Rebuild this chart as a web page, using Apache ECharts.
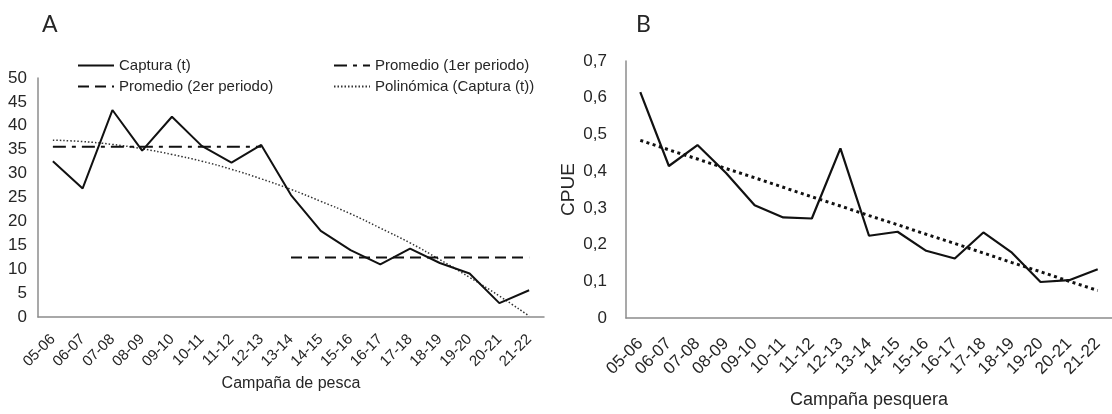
<!DOCTYPE html>
<html>
<head>
<meta charset="utf-8">
<script src="https://cdn.jsdelivr.net/npm/echarts@6/dist/echarts.min.js"></script>
<style>
html,body{margin:0;padding:0;background:#fff;}
#c{width:1112px;height:414px;}
</style>
</head>
<body>
<div id="c"></div>
<script>
// ---- data ----
const categories = ['05-06','06-07','07-08','08-09','09-10','10-11','11-12','12-13','13-14','14-15','15-16','16-17','17-18','18-19','19-20','20-21','21-22'];
const captura = [32.6, 26.9, 43.3, 34.8, 41.9, 35.8, 32.3, 36.0, 25.5, 18.0, 14.0, 11.0, 14.3, 11.3, 9.1, 2.9, 5.6];
const periodo1 = ['05-06','06-07','07-08','08-09','09-10','10-11','11-12','12-13'];
const promedio1 = 35.6;
const periodo2 = ['13-14','14-15','15-16','16-17','17-18','18-19','19-20','20-21','21-22'];
const promedio2 = 12.45;
const polinomica = [37.0, 36.7, 36.1, 35.2, 34.0, 32.6, 30.9, 28.9, 26.7, 24.2, 21.6, 18.6, 15.5, 12.0, 8.3, 4.4, 0.2];
const cpue = [0.615, 0.414, 0.471, 0.395, 0.307, 0.274, 0.271, 0.462, 0.224, 0.235, 0.183, 0.162, 0.233, 0.178, 0.098, 0.103, 0.133];
const cpueTrend = [0.484, 0.458, 0.433, 0.407, 0.382, 0.356, 0.330, 0.305, 0.279, 0.254, 0.228, 0.203, 0.177, 0.151, 0.126, 0.100, 0.075];
const yTicksA = {min: 0, max: 50, interval: 5};
const yTicksB = {min: 0, max: 0.7, interval: 0.1};

// ---- chart ----
const FONT = '"Liberation Sans", Arial, sans-serif';
const TXT = '#262626';
const AX = '#8c8c8c';
const LINE = '#111';

const chart = echarts.init(document.getElementById('c'), null, {renderer: 'canvas'});

const avg1Data = categories.map(c => periodo1.includes(c) ? promedio1 : null);
const avg2Data = categories.map(c => periodo2.includes(c) ? promedio2 : null);

function catAxis(gridIndex, name, nameGap, fs, nameFs, rot, margin) {
  return {
    type: 'category', gridIndex, data: categories, boundaryGap: true,
    name, nameLocation: 'middle', nameGap, nameMoveOverlap: false,
    nameTextStyle: {fontFamily: FONT, fontSize: nameFs, color: TXT},
    axisLine: {show: true, lineStyle: {color: AX, width: 1.5}},
    axisTick: {show: false},
    axisLabel: {rotate: rot, fontFamily: FONT, fontSize: fs, color: TXT, margin, interval: 0},
    splitLine: {show: false}
  };
}

function leg(name, left, top) {
  return {data: [name], left, top, padding: 0, itemWidth: 36, itemHeight: 14,
    itemStyle: {opacity: 0},
    textStyle: {fontFamily: FONT, fontSize: 15, color: TXT}};
}

const option = {
  backgroundColor: '#fff',
  animation: false,
  title: [
    {text: 'A', left: 37, top: 8, textStyle: {fontFamily: 'Lato, "Open Sans", sans-serif', fontWeight: 'normal', fontSize: 23, color: TXT}},
    {text: 'B', left: 631, top: 8, textStyle: {fontFamily: 'Lato, "Open Sans", sans-serif', fontWeight: 'normal', fontSize: 23, color: TXT}}
  ],
  legend: [
    leg('Captura (t)', 77, 58),
    leg('Promedio (2er periodo)', 77, 79),
    leg('Promedio (1er periodo)', 333, 58),
    leg('Polinómica (Captura (t))', 333, 79)
  ],
  grid: [
    {left: 38, top: 78, width: 506, bottom: 97, containLabel: false},
    {left: 626, top: 61, width: 498, bottom: 96, containLabel: false}
  ],
  xAxis: [
    catAxis(0, 'Campaña de pesca', 59, 15, 16, 45, 20),
    catAxis(1, 'Campaña pesquera', 73, 17, 18, 45, 23)
  ],
  yAxis: [
    {type: 'value', gridIndex: 0, min: yTicksA.min, max: yTicksA.max, interval: yTicksA.interval,
     axisLine: {show: true, lineStyle: {color: AX, width: 1.5}}, axisTick: {show: false}, splitLine: {show: false},
     axisLabel: {fontFamily: FONT, fontSize: 17, color: TXT, margin: 11}},
    {type: 'value', gridIndex: 1, min: yTicksB.min, max: yTicksB.max, interval: yTicksB.interval,
     name: 'CPUE', nameLocation: 'middle', nameGap: 48, nameMoveOverlap: false,
     nameTextStyle: {fontFamily: FONT, fontSize: 19, color: TXT},
     axisLine: {show: true, lineStyle: {color: AX, width: 1.5}}, axisTick: {show: false}, splitLine: {show: false},
     axisLabel: {fontFamily: FONT, fontSize: 17, color: TXT, margin: 19,
       formatter: v => (v === 0 ? '0' : v.toFixed(1).replace('.', ','))}}
  ],
  series: [
    {name: 'Captura (t)', type: 'line', xAxisIndex: 0, yAxisIndex: 0, data: captura, symbol: 'none',
     lineStyle: {color: LINE, width: 2}, itemStyle: {color: LINE}, z: 5},
    {name: 'Promedio (1er periodo)', type: 'line', xAxisIndex: 0, yAxisIndex: 0, data: avg1Data, symbol: 'none',
     lineStyle: {color: LINE, width: 2, type: [13, 6, 4, 6]}, itemStyle: {color: LINE}, z: 4},
    {name: 'Promedio (2er periodo)', type: 'line', xAxisIndex: 0, yAxisIndex: 0, data: avg2Data, symbol: 'none',
     lineStyle: {color: LINE, width: 2, type: [11, 6]}, itemStyle: {color: LINE}, z: 4},
    {name: 'Polinómica (Captura (t))', type: 'line', xAxisIndex: 0, yAxisIndex: 0, data: polinomica, symbol: 'none', smooth: true,
     lineStyle: {color: '#333', width: 1.5, type: [1.5, 2]}, itemStyle: {color: '#333'}, z: 3},
    {name: 'CPUE', type: 'line', xAxisIndex: 1, yAxisIndex: 1, data: cpue, symbol: 'none',
     lineStyle: {color: LINE, width: 2.2}, itemStyle: {color: LINE}, z: 5},
    {name: 'Tendencia CPUE', type: 'line', xAxisIndex: 1, yAxisIndex: 1, data: cpueTrend, symbol: 'none',
     lineStyle: {color: LINE, width: 3, type: [3, 3.5]}, itemStyle: {color: LINE}, z: 4}
  ]
};
chart.setOption(option);
</script>
</body>
</html>
